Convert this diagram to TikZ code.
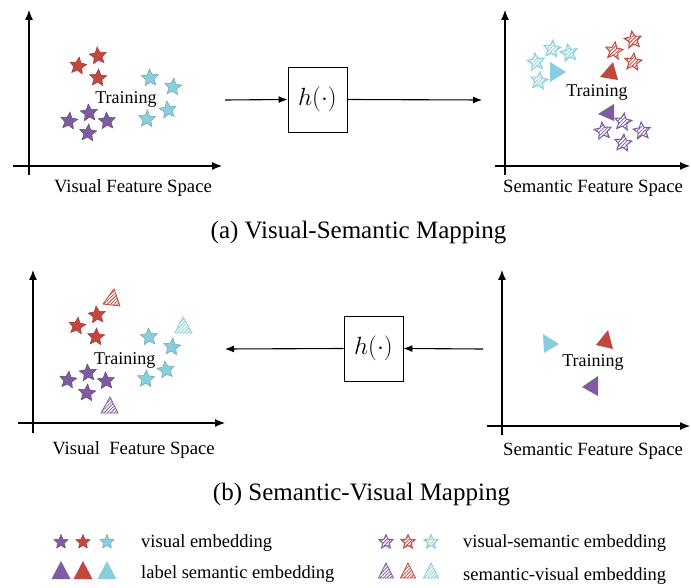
\documentclass[tikz,border=0pt]{standalone}
\usepackage{fontspec}
\setmainfont{Liberation Serif}
\usetikzlibrary{arrows.meta,patterns.meta}
\definecolor{vpurple}{RGB}{125,92,160}
\definecolor{vred}{RGB}{194,72,62}
\definecolor{vcyan}{RGB}{137,206,220}
\newcommand\mystar[4]{\path[shift={(#2,#3)},rotate=#4,#1] (270:9) -- (306:4.2) -- (342:9) -- (18:4.2) -- (54:9) -- (90:4.2) -- (126:9) -- (162:4.2) -- (198:9) -- (234:4.2) -- cycle;}
\tikzset{
  fstar/.style={fill=#1, draw=#1!80!black, line width=0.5pt},
  hstar/.style={draw=#1, line width=1pt, pattern={Lines[angle=45,distance=2.6pt,line width=0.8pt]}, pattern color=#1},
  htri/.style={draw=#1, line width=0.8pt, pattern={Lines[angle=45,distance=2.4pt,line width=0.8pt]}, pattern color=#1},
  axis/.style={line width=1.2pt, -{Latex[length=10pt,width=8pt]}},
  flow/.style={line width=1.1pt, -{Latex[length=9pt,width=7pt]}},
  hbox/.style={draw, line width=0.8pt, minimum width=59pt, minimum height=65pt, inner sep=0pt, font=\fontsize{25}{30}\selectfont},
  lab/.style={anchor=base, inner sep=0pt, font=\fontsize{18.7}{22}\selectfont},
  trn/.style={anchor=base, inner sep=0pt, font=\fontsize{18}{21}\selectfont},
  captext/.style={anchor=base, inner sep=0pt, font=\fontsize{25}{30}\selectfont},
  leg/.style={anchor=base west, inner sep=0pt, font=\fontsize{18.5}{22}\selectfont}
}
\begin{document}
\begin{tikzpicture}[x=1pt,y=-1pt]
\useasboundingbox[fill=white] (0,0) rectangle (691,588);

% ---------- (a) top-left: visual feature space ----------
\draw[axis] (29,175) -- (29,10);
\draw[axis] (13,166) -- (222,166);
\node[lab] (labA1) at (133,192.5) {Visual Feature Space};
\mystar{fstar=vred}{78}{66}{-8}
\mystar{fstar=vred}{98}{56}{6}
\mystar{fstar=vred}{98}{78}{-4}
\mystar{fstar=vcyan}{150}{78}{4}
\mystar{fstar=vcyan}{173}{87}{-6}
\mystar{fstar=vcyan}{168}{110}{8}
\mystar{fstar=vcyan}{147}{119}{-3}
\mystar{fstar=vpurple}{89}{113}{5}
\mystar{fstar=vpurple}{69}{121}{-7}
\mystar{fstar=vpurple}{107}{121}{4}
\mystar{fstar=vpurple}{88}{133}{-5}
\node[trn] (trA1) at (126,104) {Training};

% mapping box (a)
\node[hbox] (hA) at (317.5,99.5) {$h(\cdot)$};
\coordinate (inA) at (225,100);
\coordinate (outA) at (482,100);
\draw[flow] (inA) -- (hA.west);
\draw[flow] (hA.east) -- (outA);

% ---------- (a) top-right: semantic feature space ----------
\draw[axis] (505,175) -- (505,10);
\draw[axis] (495,166) -- (690,166);
\node[lab] (labA2) at (593,192.5) {Semantic Feature Space};
\mystar{hstar=vcyan}{536}{62}{8}
\mystar{hstar=vcyan}{552}{49}{-6}
\mystar{hstar=vcyan}{569}{53}{10}
\mystar{hstar=vcyan}{539}{81}{-8}
\path[fill=vcyan] (550,62) -- (550,82) -- (566,72) -- cycle;
\mystar{hstar=vred}{614}{51}{-8}
\mystar{hstar=vred}{633}{40}{8}
\mystar{hstar=vred}{633}{62}{-6}
\path[fill=vred] (613,62) -- (600,77) -- (618,80) -- cycle;
\node[trn] (trA2) at (597,97) {Training};
\path[fill=vpurple] (614,104) -- (598,114) -- (614,121) -- cycle;
\mystar{hstar=vpurple}{603}{131}{8}
\mystar{hstar=vpurple}{623}{122}{-8}
\mystar{hstar=vpurple}{642}{131}{6}
\mystar{hstar=vpurple}{623}{143}{-6}

\node[captext] (capA) at (358.5,239) {(a) Visual-Semantic Mapping};

% ---------- (b) bottom-left: visual feature space ----------
\draw[axis] (33,433) -- (33,270);
\draw[axis] (18,423) -- (225,423);
\node[lab] (labB1) at (133.5,454) {Visual\ \ Feature Space};
\mystar{fstar=vred}{77}{326}{-8}
\mystar{fstar=vred}{97}{315}{6}
\mystar{fstar=vred}{96}{337}{-4}
\path[htri=vred] (114,289) -- (103,304) -- (120,306) -- cycle;
\mystar{fstar=vcyan}{149}{337}{4}
\mystar{fstar=vcyan}{172}{347}{-6}
\mystar{fstar=vcyan}{166}{370}{8}
\mystar{fstar=vcyan}{146}{379}{-3}
\path[htri=vcyan] (183,317) -- (175,333) -- (192,333) -- cycle;
\mystar{fstar=vpurple}{88}{373}{5}
\mystar{fstar=vpurple}{68}{380}{-7}
\mystar{fstar=vpurple}{106}{381}{4}
\mystar{fstar=vpurple}{87}{393}{-5}
\path[htri=vpurple] (110,397) -- (101,413) -- (118,413) -- cycle;
\node[trn] (trB1) at (124.7,364) {Training};

% mapping box (b)
\node[hbox] (hB) at (373.5,348.5) {$h(\cdot)$};
\coordinate (inB) at (483,349);
\coordinate (outB) at (225,349);
\draw[flow] (inB) -- (hB.east);
\draw[flow] (hB.west) -- (outB);

% ---------- (b) bottom-right: semantic feature space ----------
\draw[axis] (502,435) -- (502,270);
\draw[axis] (487,426) -- (690,426);
\node[lab] (labB2) at (593,455) {Semantic Feature Space};
\path[fill=vcyan] (543,334) -- (544,353) -- (559,344) -- cycle;
\path[fill=vred] (608,330) -- (596,345) -- (613,349) -- cycle;
\path[fill=vpurple] (598,376) -- (582,387) -- (598,396) -- cycle;
\node[trn] (trB2) at (593,366) {Training};

\node[captext] (capB) at (361.5,500) {(b) Semantic-Visual Mapping};

% ---------- legend ----------
\mystar{fstar=vpurple,scale=0.82}{61}{542}{0}
\mystar{fstar=vred,scale=0.82}{83}{542}{0}
\mystar{fstar=vcyan,scale=0.82}{107}{542}{0}
\node[leg] (legA) at (141,547) {visual embedding};
\path[fill=vpurple] (61,561) -- (51.5,579) -- (70.5,579) -- cycle;
\path[fill=vred] (83,561) -- (73.5,579) -- (92.5,579) -- cycle;
\path[fill=vcyan] (107,561) -- (97.5,579) -- (116.5,579) -- cycle;
\node[leg] (legB) at (141,578) {label semantic embedding};

\mystar{hstar=vpurple,scale=0.82}{386}{542}{0}
\mystar{hstar=vred,scale=0.82}{408}{542}{0}
\mystar{hstar=vcyan,scale=0.82}{431}{542}{0}
\node[leg] (legC) at (463,547) {visual-semantic embedding};
\path[htri=vpurple] (386,563) -- (378.5,578) -- (393.5,578) -- cycle;
\path[htri=vred] (408,563) -- (400.5,578) -- (415.5,578) -- cycle;
\path[htri=vcyan] (431,563) -- (423.5,578) -- (438.5,578) -- cycle;
\node[leg] (legD) at (463,580) {semantic-visual embedding};
\end{tikzpicture}
\end{document}
